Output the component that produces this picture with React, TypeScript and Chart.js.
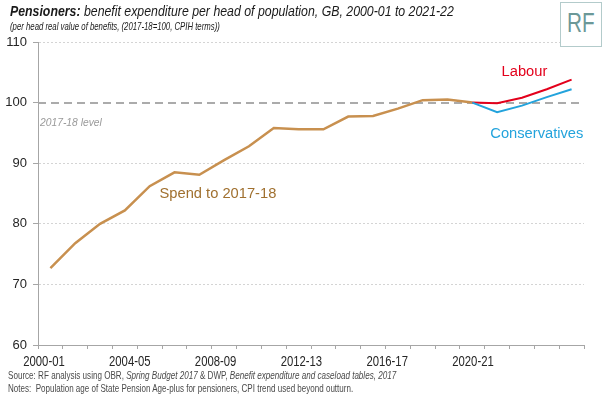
import React, { useEffect, useRef } from 'react';
import { Chart, registerables } from 'chart.js';

Chart.register(...registerables);

const categories = [
  '2000-01', '2001-02', '2002-03', '2003-04', '2004-05', '2005-06', '2006-07', '2007-08',
  '2008-09', '2009-10', '2010-11', '2011-12', '2012-13', '2013-14', '2014-15', '2015-16',
  '2016-17', '2017-18', '2018-19', '2019-20', '2020-21', '2021-22',
];

const spendValues = [
  72.7, 76.8, 80.0, 82.2, 86.2, 88.5, 88.1, 90.5, 92.8, 95.8, 95.6, 95.6,
  97.7, 97.8, 99.0, 100.4, 100.5, 100.0, null, null, null, null,
];

const labourValues = [
  null, null, null, null, null, null, null, null, null, null, null, null,
  null, null, null, null, null, 100.0, 99.9, 100.8, 102.2, 103.8,
];

const conservativeValues = [
  null, null, null, null, null, null, null, null, null, null, null, null,
  null, null, null, null, null, 100.0, 98.4, 99.5, 100.9, 102.2,
];

const xTickLabels = ['2000-01', '2004-05', '2008-09', '2012-13', '2016-17', '2020-21'];
const yTickValues = [60, 70, 80, 90, 100, 110];
const referenceLevel = 100;

const SANS = '"Liberation Sans", Arial, Helvetica, sans-serif';

const annotations = [
  { text: 'Labour', x: 19.1, y: 105.05, color: '#E3001B' },
  { text: 'Conservatives', x: 19.6, y: 94.75, color: '#23A3DC' },
  { text: 'Spend to 2017-18', x: 6.75, y: 85.0, color: '#A0702F' },
];

const textPlugin = {
  id: 'textLayer',
  afterDatasetsDraw(chart: any) {
    const { ctx, scales, chartArea } = chart;
    const xs = scales.x;
    const ys = scales.y;
    const xl = scales.xl;
    ctx.save();
    ctx.textBaseline = 'middle';
    ctx.textAlign = 'center';
    ctx.font = `14.7px ${SANS}`;
    for (const a of annotations) {
      ctx.fillStyle = a.color;
      ctx.fillText(a.text, xs.getPixelForValue(a.x), ys.getPixelForValue(a.y));
    }
    ctx.font = `italic 10.3px ${SANS}`;
    ctx.fillStyle = '#9a9a9a';
    ctx.textAlign = 'left';
    ctx.fillText('2017-18 level', chartArea.left + 2, ys.getPixelForValue(96.6));

    // category labels of the lower axis, horizontally condensed like the original
    ctx.font = `15.5px ${SANS}`;
    ctx.fillStyle = '#262626';
    ctx.textAlign = 'center';
    xTickLabels.forEach((label, i) => {
      ctx.save();
      ctx.translate(xl.getPixelForValue(i), xl.top + 12.5);
      ctx.scale(0.73, 1);
      ctx.fillText(label, 0, 0);
      ctx.restore();
    });
    ctx.restore();
  },
};

export default function App() {
  const canvasRef = useRef<HTMLCanvasElement | null>(null);

  useEffect(() => {
    const canvas = canvasRef.current;
    if (!canvas) return;
    const chart = new Chart(canvas, {
      type: 'line',
      data: {
        labels: categories,
        datasets: [
          {
            label: 'Conservatives',
            data: conservativeValues,
            borderColor: '#23A3DC',
            borderWidth: 2,
            pointRadius: 0,
            tension: 0,
            xAxisID: 'x',
            yAxisID: 'y',
          },
          {
            label: 'Labour',
            data: labourValues,
            borderColor: '#E3001B',
            borderWidth: 2,
            pointRadius: 0,
            tension: 0,
            xAxisID: 'x',
            yAxisID: 'y',
          },
          {
            label: 'Spend to 2017-18',
            data: spendValues,
            borderColor: '#C8904F',
            borderWidth: 2.5,
            pointRadius: 0,
            tension: 0,
            xAxisID: 'x',
            yAxisID: 'y',
          },
        ],
      },
      options: {
        responsive: false,
        animation: false,
        layout: { padding: { top: 42, left: 0, right: 21, bottom: 0 } },
        plugins: {
          legend: { display: false },
          tooltip: { enabled: false },
        },
        scales: {
          x: {
            type: 'category',
            position: 'bottom',
            weight: 0,
            offset: true,
            afterFit: (scale: any) => {
              scale.height = 4;
            },
            grid: {
              offset: true,
              drawOnChartArea: false,
              drawTicks: true,
              tickLength: 4,
              tickColor: '#a6a6a6',
              color: '#a6a6a6',
            },
            border: { display: true, color: '#a6a6a6', width: 1 },
            ticks: { display: false, autoSkip: false },
          },
          xl: {
            type: 'linear',
            position: 'bottom',
            weight: 1,
            min: -0.07,
            max: 6.294,
            afterFit: (scale: any) => {
              scale.height = 24;
            },
            grid: { display: false },
            border: { display: false },
            afterBuildTicks: (scale: any) => {
              scale.ticks = xTickLabels.map((_, i) => ({ value: i }));
            },
            ticks: { display: false },
          },
          y: {
            type: 'linear',
            position: 'left',
            weight: 0,
            min: 60,
            max: 110,
            afterFit: (scale: any) => {
              scale.width = 38;
            },
            afterBuildTicks: (scale: any) => {
              scale.ticks = yTickValues.map((v) => ({ value: v }));
            },
            grid: {
              color: (c: any) =>
                c.tick && (c.tick.value === referenceLevel || c.tick.value === 60)
                  ? 'rgba(0,0,0,0)'
                  : '#d4d4d4',
              lineWidth: 1,
              tickColor: '#a6a6a6',
              tickLength: 5,
              tickWidth: 1,
              tickBorderDash: [],
            },
            border: { display: true, color: '#a6a6a6', width: 1, dash: [2, 2] },
            ticks: {
              padding: 6,
              color: '#262626',
              font: { family: SANS, size: 13 },
            },
          },
          yr: {
            type: 'linear',
            position: 'left',
            weight: 1,
            min: 60,
            max: 110,
            afterFit: (scale: any) => {
              scale.width = 0;
            },
            afterBuildTicks: (scale: any) => {
              scale.ticks = [{ value: referenceLevel }];
            },
            grid: { color: '#ababab', lineWidth: 2, drawTicks: false },
            border: { display: false, dash: [8, 5] },
            ticks: { display: false },
          },
        },
      },
      plugins: [textPlugin],
    });
    return () => chart.destroy();
  }, []);

  const condensed = (s: number): React.CSSProperties => ({
    transform: `scaleX(${s})`,
    transformOrigin: 'left top',
    whiteSpace: 'nowrap',
  });

  return (
    <div
      style={{
        position: 'absolute',
        left: 0,
        top: 0,
        width: 605,
        height: 397,
        background: '#fff',
        overflow: 'hidden',
        fontFamily: SANS,
      }}
    >
      <canvas ref={canvasRef} width={605} height={373} style={{ position: 'absolute', left: 0, top: 0, width: 605, height: 373 }} />
      <div style={{ position: 'absolute', left: 10, top: 3, fontSize: 14, fontStyle: 'italic', color: '#1a1a1a', lineHeight: '16px', ...condensed(0.88) }}>
        <b>Pensioners:</b> benefit expenditure per head of population, GB, 2000-01 to 2021-22
      </div>
      <div style={{ position: 'absolute', left: 10, top: 20, fontSize: 11.2, fontStyle: 'italic', color: '#1a1a1a', lineHeight: '13px', ...condensed(0.695) }}>
        (per head real value of benefits, (2017-18=100, CPIH terms))
      </div>
      <div
        style={{
          position: 'absolute',
          left: 560,
          top: 2,
          width: 42,
          height: 45,
          border: '1px solid #b3cbcb',
          background: '#fff',
          boxSizing: 'border-box',
          overflow: 'hidden',
        }}
      >
        <div
          style={{
            position: 'absolute',
            left: 6,
            top: 6,
            color: '#6b9898',
            fontSize: 28,
            lineHeight: '28px',
            ...condensed(0.74),
          }}
        >
          RF
        </div>
      </div>
      <div style={{ position: 'absolute', left: 8, top: 369, fontSize: 10.5, color: '#4a4a4a', lineHeight: '13px', ...condensed(0.77) }}>
        Source: RF analysis using OBR, <i>Spring Budget 2017</i> &amp; DWP, <i>Benefit expenditure and caseload tables, 2017</i>
      </div>
      <div style={{ position: 'absolute', left: 8, top: 382, fontSize: 10.5, color: '#4a4a4a', lineHeight: '13px', ...condensed(0.765) }}>
        Notes:&nbsp; Population age of State Pension Age-plus for pensioners, CPI trend used beyond outturn.
      </div>
    </div>
  );
}
